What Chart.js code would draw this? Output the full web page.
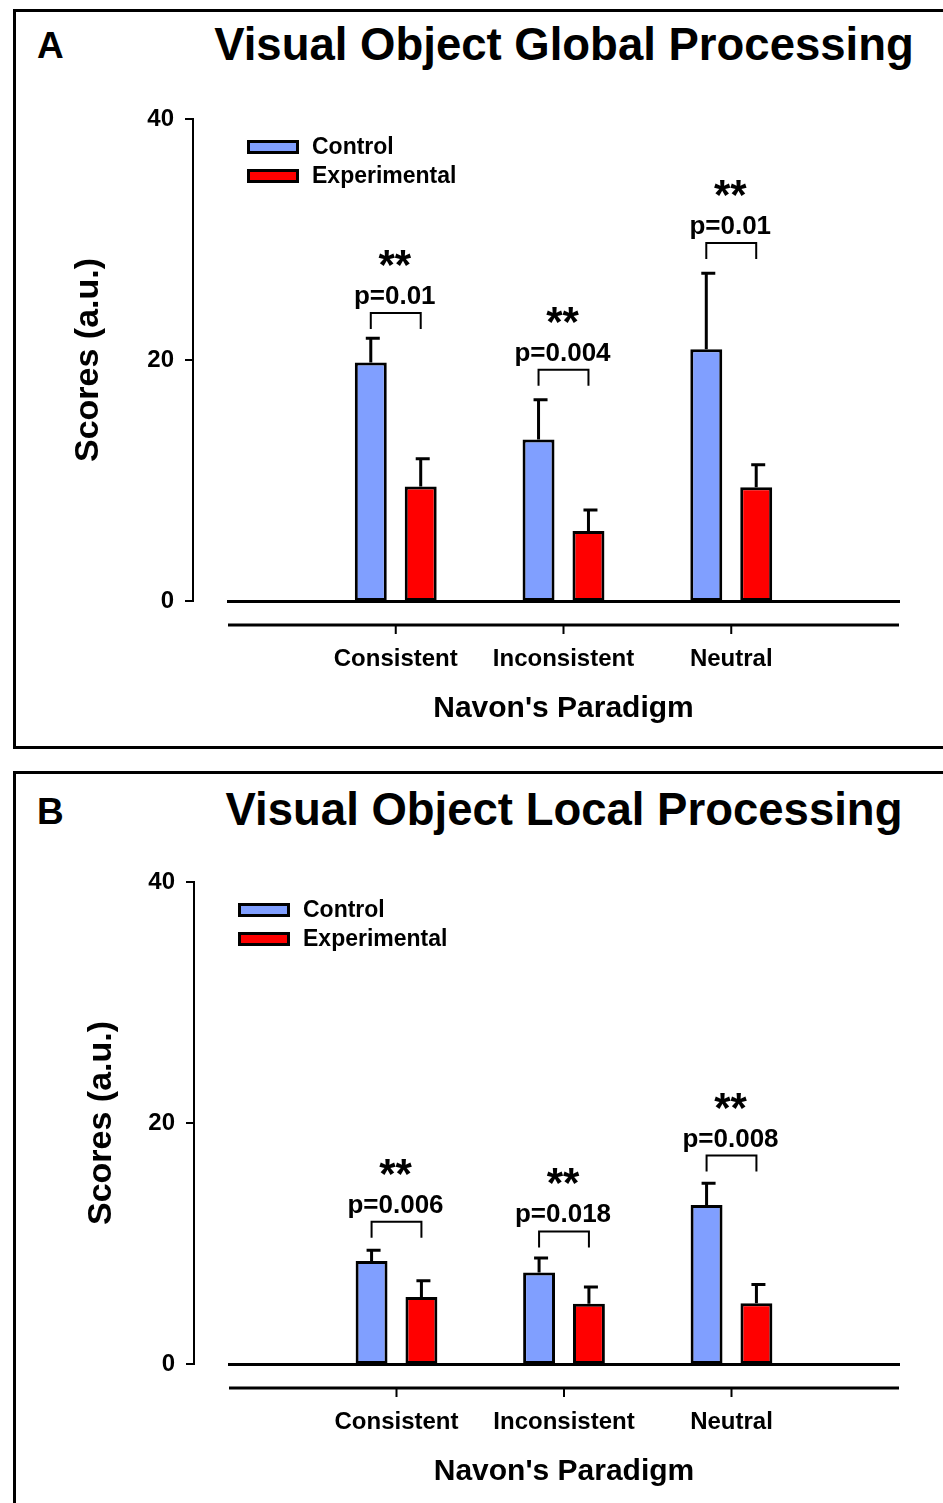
<!DOCTYPE html>
<html>
<head>
<meta charset="utf-8">
<script src="https://cdn.jsdelivr.net/npm/chart.js@4.4.0/dist/chart.umd.min.js"></script>
<style>
  body { margin: 0; width: 943px; height: 1503px; overflow: hidden; background: #fff; position: relative;
         font-family: "Liberation Sans", Arial, sans-serif; }
  .panel { position: absolute; left: 13px; width: 1000px; border: 3px solid #000; box-sizing: border-box; }
  #panelA { top: 9px; height: 740px; }
  #panelB { top: 771px; height: 800px; }
  .letter { position: absolute; left: 37px; font-weight: bold; font-size: 37px; line-height: 37px; }
  .title { position: absolute; left: 164px; width: 800px; text-align: center; font-weight: bold;
           font-size: 45.5px; line-height: 46px; white-space: nowrap; }
  canvas { position: absolute; left: 0; }
</style>
</head>
<body>
<div class="panel" id="panelA"></div>
<div class="panel" id="panelB"></div>
<div class="letter" style="top:27px">A</div>
<div class="title" style="top:22px">Visual Object Global Processing</div>
<div class="letter" style="top:793px">B</div>
<div class="title" style="top:787px">Visual Object Local Processing</div>
<canvas id="chartA" width="943" height="760" style="top:0"></canvas>
<canvas id="chartB" width="943" height="740" style="top:763px"></canvas>
<script>
const categories = ['Consistent', 'Inconsistent', 'Neutral'];

// A: global processing
const globalControl = [19.8, 13.4, 20.9];
const globalControlErr = [2.0, 3.3, 6.3];
const globalExperimental = [9.5, 5.8, 9.45];
const globalExperimentalErr = [2.3, 1.75, 1.85];
const globalBracket = [23.9, 19.2, 29.7];
const globalP = ['p=0.01', 'p=0.004', 'p=0.01'];

// B: local processing
const localControl = [8.55, 7.6, 13.2];
const localControlErr = [0.9, 1.2, 1.8];
const localExperimental = [5.55, 5.0, 5.05];
const localExperimentalErr = [1.35, 1.4, 1.55];
const localBracket = [11.8, 11.0, 17.3];
const localP = ['p=0.006', 'p=0.018', 'p=0.008'];

const CONTROL_COLOR = '#809fff';
const EXPERIMENTAL_COLOR = '#ff0000';
const FONT = '"Liberation Sans", Arial, sans-serif';

Chart.defaults.font.family = FONT;
Chart.defaults.color = '#000';

/**
 * error bars, significance brackets, legend and the offset axis lines
 */
const panelDecor = {
    id: 'panelDecor',
    afterDatasetsDraw: (chart, args, opts) => {
        const { ctx, chartArea, scales: { x, y } } = chart;
        ctx.save();
        ctx.strokeStyle = '#000';
        ctx.fillStyle = '#000';

        // y axis, set off to the left of the bars
        const ax = chartArea.left - 35;
        ctx.lineWidth = 2;
        ctx.lineCap = 'square';
        ctx.beginPath();
        ctx.moveTo(ax, y.getPixelForValue(y.max));
        ctx.lineTo(ax, y.getPixelForValue(y.min));
        for (const t of y.ticks) {
            const py = y.getPixelForValue(t.value);
            ctx.moveTo(ax - 7, py);
            ctx.lineTo(ax, py);
        }
        ctx.stroke();

        // second x line with category ticks
        const ly = chartArea.bottom + 24;
        ctx.lineCap = 'butt';
        ctx.lineWidth = 3;
        ctx.beginPath();
        ctx.moveTo(chartArea.left, ly);
        ctx.lineTo(chartArea.right, ly);
        ctx.stroke();
        ctx.lineWidth = 2;
        ctx.beginPath();
        categories.forEach((c, i) => {
            const px = x.getPixelForValue(i + 1);
            ctx.moveTo(px, ly);
            ctx.lineTo(px, ly + 9);
        });
        ctx.stroke();

        // error bars (upper only)
        chart.data.datasets.forEach((ds, d) => {
            const meta = chart.getDatasetMeta(d);
            meta.data.forEach((bar, i) => {
                const v = ds.data[i];
                if (v === null) return;
                const top = y.getPixelForValue(v + ds.errors[i]);
                ctx.lineWidth = 3;
                ctx.beginPath();
                ctx.moveTo(bar.x, bar.y);
                ctx.lineTo(bar.x, top);
                ctx.moveTo(bar.x - 5, top);
                ctx.lineTo(bar.x + 9, top);
                ctx.stroke();
            });
        });

        // brackets with p values
        const m0 = chart.getDatasetMeta(0);
        const m1 = chart.getDatasetMeta(1);
        ctx.textAlign = 'center';
        ctx.textBaseline = 'alphabetic';
        opts.brackets.forEach((b, i) => {
            const xl = m0.data[i + 1].x;
            const xr = m1.data[i + 1].x;
            const yb = y.getPixelForValue(b);
            ctx.lineWidth = 2;
            ctx.beginPath();
            ctx.moveTo(xl, yb + 16);
            ctx.lineTo(xl, yb);
            ctx.lineTo(xr, yb);
            ctx.lineTo(xr, yb + 16);
            ctx.stroke();
            ctx.font = `bold 26px ${FONT}`;
            ctx.fillText(opts.pLabels[i], (xl + xr) / 2 - 1, yb - 9);
            ctx.font = `bold 42px ${FONT}`;
            ctx.fillText('**', (xl + xr) / 2 - 1, yb - 34);
        });

        // legend
        ctx.textAlign = 'left';
        ctx.textBaseline = 'middle';
        ctx.font = `bold 23px ${FONT}`;
        chart.data.datasets.forEach((ds, d) => {
            const bx = chartArea.left + opts.legendX;
            const cy = chartArea.top + 28 + 29 * d;
            ctx.fillStyle = ds.backgroundColor;
            ctx.fillRect(bx, cy - 7, 52, 14);
            ctx.lineWidth = 3;
            ctx.strokeRect(bx + 1.5, cy - 5.5, 49, 11);
            ctx.fillStyle = '#000';
            ctx.fillText(ds.label, bx + 65, cy + 1);
        });
        ctx.restore();
    }
};

/**
 * builds one panel chart
 */
const renderPanel = (canvasId, control, controlErr, experimental, experimentalErr, brackets, pLabels, decor) => {
    const padEnds = (arr) => [null, ...arr, null];
    return new Chart(document.getElementById(canvasId), {
        type: 'bar',
        data: {
            labels: ['', ...categories, ''],
            datasets: [{
                label: 'Control',
                data: padEnds(control),
                errors: padEnds(controlErr),
                backgroundColor: CONTROL_COLOR,
                borderColor: '#000',
                borderWidth: 3,
                borderSkipped: false,
            }, {
                label: 'Experimental',
                data: padEnds(experimental),
                errors: padEnds(experimentalErr),
                backgroundColor: EXPERIMENTAL_COLOR,
                borderColor: '#000',
                borderWidth: 3,
                borderSkipped: false,
            }]
        },
        options: {
            responsive: false,
            animation: false,
            categoryPercentage: 100 / 168,
            barPercentage: 0.64,
            layout: { padding: { left: decor.left, top: 119, right: 43, bottom: decor.bottom } },
            plugins: {
                legend: { display: false },
                tooltip: { enabled: false },
                panelDecor: { brackets, pLabels, legendX: decor.legendX },
            },
            scales: {
                x: {
                    type: 'category',
                    offset: false,
                    grid: { display: false, drawTicks: false },
                    border: { display: true, color: '#000', width: 3 },
                    ticks: { autoSkip: false, maxRotation: 0, padding: 44, font: { size: 24, weight: 'bold' } },
                    title: {
                        display: true, text: "Navon's Paradigm",
                        font: { size: 30, weight: 'bold' }, padding: { top: 0, bottom: 4 }
                    },
                    afterFit: (s) => { s.height = 130; },
                },
                y: {
                    min: 0,
                    max: 40,
                    grid: { display: false, drawTicks: false },
                    border: { display: false },
                    ticks: { stepSize: 20, padding: 54, font: { size: 24, weight: 'bold' } },
                    title: {
                        display: true, text: 'Scores (a.u.)',
                        font: { size: 34, weight: 'bold' }, padding: { top: decor.yTitlePad, bottom: 0 }
                    },
                    afterFit: (s) => { s.width = 228; },
                }
            }
        },
        plugins: [panelDecor]
    });
};

renderPanel('chartA', globalControl, globalControlErr, globalExperimental, globalExperimentalErr,
    globalBracket, globalP, { left: 0, bottom: 29, legendX: 19, yTitlePad: 68 });
renderPanel('chartB', localControl, localControlErr, localExperimental, localExperimentalErr,
    localBracket, localP, { left: 1, bottom: 9, legendX: 9, yTitlePad: 80 });
</script>
</body>
</html>
